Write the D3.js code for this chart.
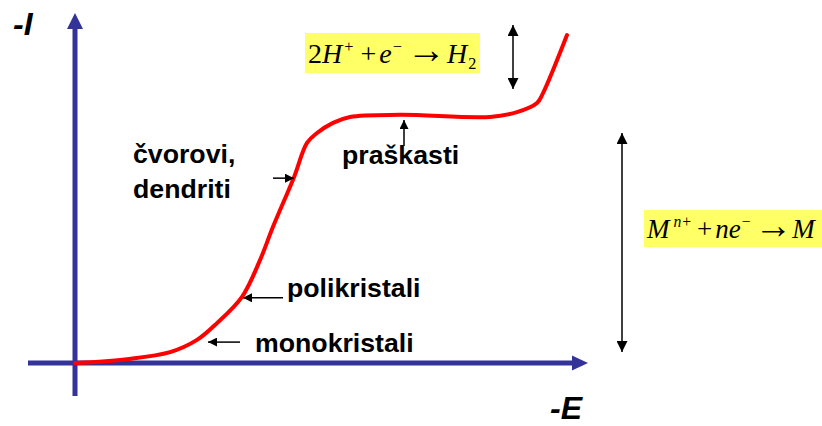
<!DOCTYPE html>
<html>
<head>
<meta charset="utf-8">
<script src="https://cdnjs.cloudflare.com/ajax/libs/d3/7.8.5/d3.min.js"></script>
<style>
  body { margin: 0; background: #fff; }
  .lbl { font-family: "Liberation Sans", Arial, sans-serif; font-weight: bold; font-size: 26.7px; fill: #000; }
  .axlbl { font-family: "Liberation Sans", Arial, sans-serif; font-weight: bold; font-style: italic; font-size: 32px; fill: #000; }
  .eq { font-family: "Liberation Serif", "Times New Roman", serif; fill: #000; }
</style>
</head>
<body>
<div class="chart"></div>
<script>
// curve data: -E (x) and -I (y), arbitrary units 0..100
var potential = [0, 10.4, 19, 24.4, 28.4, 33.4, 37, 39.6, 43.8, 46.4, 48.4, 51.6, 55, 65, 83, 88.4, 92.4, 93.6, 98.4];
var current = [0, 1.1, 3.1, 6.6, 11.4, 18.9, 29.4, 38.9, 53.1, 62.9, 65.7, 68.6, 70.3, 70.9, 70.3, 71.7, 74.3, 77.1, 93.7];

// annotation labels and the curve point (index) each one points at
var labelNames = ["monokristali", "polikristali", "čvorovi,", "dendriti", "praškasti"];
var arrowTargets = [4, 5, 8, 13];

var svgWidth = 822;
var svgHeight = 426;

var svg = d3
  .select(".chart")
  .append("svg")
  .attr("width", svgWidth)
  .attr("height", svgHeight);

// scales
var xScale = d3.scaleLinear().domain([0, 100]).range([75, 575]);
var yScale = d3.scaleLinear().domain([0, 100]).range([363, 13]);

var axisColor = "#333399";

// arrow markers
var defs = svg.append("defs");
defs.append("marker")
  .attr("id", "head")
  .attr("viewBox", "0 0 10 10")
  .attr("refX", 10)
  .attr("refY", 5)
  .attr("markerUnits", "userSpaceOnUse")
  .attr("markerWidth", 10)
  .attr("markerHeight", 9)
  .attr("orient", "auto-start-reverse")
  .append("path")
  .attr("d", "M0,0L10,5L0,10Z")
  .attr("fill", "#000");

defs.append("marker")
  .attr("id", "bighead")
  .attr("viewBox", "0 0 10 10")
  .attr("refX", 10)
  .attr("refY", 5)
  .attr("markerUnits", "userSpaceOnUse")
  .attr("markerWidth", 11)
  .attr("markerHeight", 11)
  .attr("orient", "auto-start-reverse")
  .append("path")
  .attr("d", "M0,0L10,5L0,10Z")
  .attr("fill", "#000");

// axes (plain arrows, no ticks)
var x0 = xScale(0);
var y0 = yScale(0);

svg.append("line")
  .attr("x1", 28).attr("y1", y0)
  .attr("x2", 574).attr("y2", y0)
  .attr("stroke", axisColor)
  .attr("stroke-width", 5);
svg.append("path")
  .attr("d", "M572," + (y0 - 7.5) + "L588," + y0 + "L572," + (y0 + 7.5) + "Z")
  .attr("fill", axisColor);

svg.append("line")
  .attr("x1", x0).attr("y1", 396)
  .attr("x2", x0).attr("y2", 27)
  .attr("stroke", axisColor)
  .attr("stroke-width", 5);
svg.append("path")
  .attr("d", "M" + (x0 - 8) + ",29L" + x0 + ",13L" + (x0 + 8) + ",29Z")
  .attr("fill", axisColor);

svg.append("text").attr("class", "axlbl").attr("x", 13).attr("y", 35).text("-I");
svg.append("text").attr("class", "axlbl").attr("x", 550).attr("y", 419).text("-E");

// the polarization curve
var points = potential.map(function(p, i) { return [p, current[i]]; });

var line = d3.line()
  .x(function(d) { return xScale(d[0]); })
  .y(function(d) { return yScale(d[1]); })
  .curve(d3.curveCatmullRom.alpha(0.5));

svg.append("path")
  .datum(points)
  .attr("d", line)
  .attr("fill", "none")
  .attr("stroke", "#ff0000")
  .attr("stroke-width", 4)
  .attr("stroke-linejoin", "round")
  .attr("stroke-linecap", "round");

// small pointer arrows to the curve
function pointer(x1, y1, x2, y2) {
  svg.append("line")
    .attr("x1", x1).attr("y1", y1)
    .attr("x2", x2).attr("y2", y2)
    .attr("stroke", "#000")
    .attr("stroke-width", 1.5)
    .attr("marker-end", "url(#head)");
}

var pm = points[arrowTargets[0]];
pointer(240, yScale(pm[1]) + 19, xScale(pm[0]) - 9, yScale(pm[1]) + 19);
var pp = points[arrowTargets[1]];
pointer(283, yScale(pp[1]) + 1, xScale(pp[0]) + 1, yScale(pp[1]) + 1);
var pd = points[arrowTargets[2]];
pointer(273, yScale(pd[1]) + 1, xScale(pd[0]), yScale(pd[1]) + 1);
var pr = points[arrowTargets[3]];
pointer(404, 146, 404, yScale(70.3) + 3);

svg.append("text").attr("class", "lbl").attr("x", 255).attr("y", 352).text(labelNames[0]);
svg.append("text").attr("class", "lbl").attr("x", 287).attr("y", 297).text(labelNames[1]);
svg.append("text").attr("class", "lbl").attr("x", 133).attr("y", 163).text(labelNames[2]);
svg.append("text").attr("class", "lbl").attr("x", 133).attr("y", 198).text(labelNames[3]);
svg.append("text").attr("class", "lbl").attr("x", 342).attr("y", 164).text(labelNames[4]);

// double-headed range arrows
svg.append("line")
  .attr("x1", 513).attr("y1", 25)
  .attr("x2", 513).attr("y2", 89)
  .attr("stroke", "#000")
  .attr("stroke-width", 1.5)
  .attr("marker-start", "url(#bighead)")
  .attr("marker-end", "url(#bighead)");

svg.append("line")
  .attr("x1", 622).attr("y1", 133)
  .attr("x2", 622).attr("y2", 352)
  .attr("stroke", "#000")
  .attr("stroke-width", 1.5)
  .attr("marker-start", "url(#bighead)")
  .attr("marker-end", "url(#bighead)");

// equations on yellow boxes
function equation(bx, by, bw, bh, tx, ty, size, parts) {
  svg.append("rect")
    .attr("x", bx).attr("y", by)
    .attr("width", bw).attr("height", bh)
    .attr("fill", "#ffff66");
  var t = svg.append("text")
    .attr("class", "eq")
    .attr("x", tx).attr("y", ty)
    .attr("font-size", size);
  var offset = 0;
  parts.forEach(function(p) {
    var target = p.sup ? -0.4 * size : (p.sub ? 0.22 * size : 0);
    t.append("tspan")
      .attr("dy", target - offset)
      .attr("dx", p.dx || 0)
      .attr("font-style", p.it ? "italic" : "normal")
      .attr("font-size", (p.sup || p.sub) ? size * 0.58 : (p.arrow ? size * 1.4 : size))
      .text(p.s);
    offset = target;
  });
}

equation(305, 33, 175, 40, 308, 63, 28, [
  { s: "2" }, { s: "H", it: true }, { s: "+", sup: true, dx: 2 },
  { s: "+", dx: 7 }, { s: "e", it: true, dx: 3 }, { s: "−", sup: true, dx: 1 },
  { s: "→", arrow: true, dx: 5 }, { s: "H", it: true, dx: 1 }, { s: "2", sub: true, dx: 1 }
]);

equation(644, 210, 178, 37, 647, 238, 27, [
  { s: "M", it: true }, { s: "n+", it: true, sup: true, dx: 4 },
  { s: "+", dx: 5 }, { s: "ne", it: true, dx: 3 }, { s: "−", sup: true, dx: 1 },
  { s: "→", arrow: true, dx: 4 }, { s: "M", it: true, dx: 0 }
]);
</script>
</body>
</html>
